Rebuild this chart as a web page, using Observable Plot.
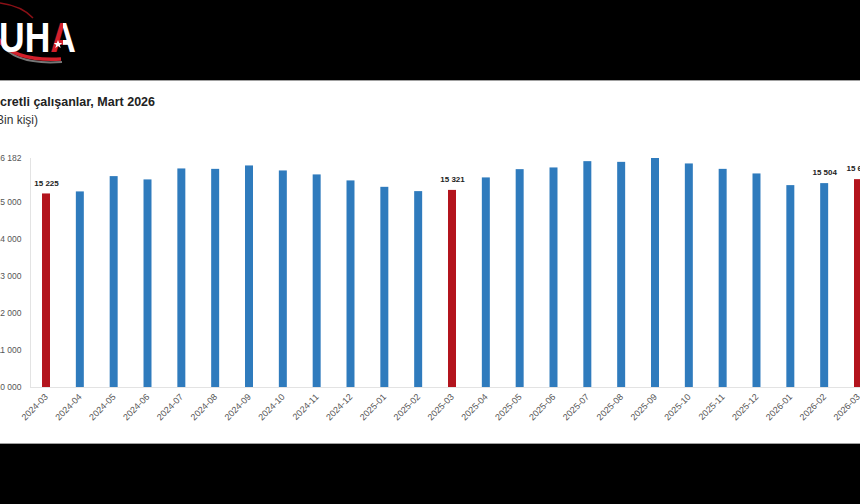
<!DOCTYPE html>
<html><head><meta charset="utf-8">
<script src="https://cdn.jsdelivr.net/npm/d3@7"></script>
<script src="https://cdn.jsdelivr.net/npm/@observablehq/plot@0.6"></script>
<style>
html,body{margin:0;padding:0;background:#000;width:860px;height:504px;overflow:hidden;position:relative;font-family:"Liberation Sans",Arial,sans-serif}
#panel{position:absolute;left:0;top:80px;width:860px;height:362px;background:#fff;border-top:1px solid #a0a0a0;border-bottom:1px solid #a0a0a0}
#logo{position:absolute;left:0;top:0}
.t{position:absolute;white-space:nowrap;line-height:1}
#title{left:-9px;top:96px;font-size:12.5px;font-weight:bold;color:#222}
#subtitle{left:-8px;top:114px;font-size:12px;color:#333}
#chart{position:absolute;left:-40px;top:140px;width:924px;height:303px}
#chart svg{max-width:none !important;width:924px;height:303px}
</style></head>
<body>
<svg id="logo" width="130" height="80">
  <defs>
    <linearGradient id="ag" gradientUnits="userSpaceOnUse" x1="50" x2="76" y1="0" y2="0">
      <stop offset="0" stop-color="#d3202b"/><stop offset="0.5" stop-color="#d3202b"/>
      <stop offset="0.5" stop-color="#fff"/><stop offset="1" stop-color="#fff"/>
    </linearGradient>
  </defs>
  <path d="M0 3 Q22 6 33 18" fill="none" stroke="#8a1016" stroke-width="1.5"/>
  <path d="M-4 32 Q4 66 62 62" fill="none" stroke="#777" stroke-width="2"/>
  <path d="M-6 28 Q2 62 61 59" fill="none" stroke="#d3202b" stroke-width="3.5"/>
  <text x="-1" y="52" font-size="42" font-weight="bold" fill="#fff" textLength="77" lengthAdjust="spacingAndGlyphs">UH<tspan fill="url(#ag)">A</tspan></text>
  <path d="M58 40 L59.2 43 L62.2 43 L59.8 44.9 L60.7 48 L58 46.1 L55.3 48 L56.2 44.9 L53.8 43 L56.8 43 Z" fill="#fff"/>
</svg>
<div id="panel"></div>
<div class="t" id="title">Ücretli çalışanlar, Mart 2026</div>
<div class="t" id="subtitle">(Bin kişi)</div>
<div id="chart"></div>
<script>
const months = ["2024-03","2024-04","2024-05","2024-06","2024-07","2024-08","2024-09","2024-10","2024-11","2024-12",
  "2025-01","2025-02","2025-03","2025-04","2025-05","2025-06","2025-07","2025-08","2025-09","2025-10","2025-11","2025-12",
  "2026-01","2026-02","2026-03"];
const values = [15225,15280,15693,15604,15900,15889,15981,15846,15739,15577,
  15404,15288,15321,15658,15881,15927,16097,16078,16182,16035,15889,15765,
  15450,15504,15611];
const redMonths = ["2024-03","2025-03","2026-03"];
const labeledMonths = ["2024-03","2025-03","2026-02","2026-03"];
const yTicks = [10000,11000,12000,13000,14000,15000,16182];
const yMin = 10000, yMax = 16182;
const blue = "#2f7bbd", red = "#b3141d";

const fmt = d => d3.format(",")(d).replace(/,/g, " ");
const data = months.map((m, i) => ({month: m, value: values[i], red: redMonths.includes(m), labeled: labeledMonths.includes(m)}));

const chart = Plot.plot({
  width: 924, height: 303,
  marginLeft: 70, marginRight: 10, marginTop: 18, marginBottom: 56,
  style: {fontFamily: "'Liberation Sans', Arial, sans-serif", background: "transparent", overflow: "visible"},
  x: {domain: months, paddingInner: 0.764, paddingOuter: 0.355, round: false, label: null},
  y: {domain: [yMin, yMax], label: null},
  marks: [
    Plot.frame({anchor: "left", stroke: "#e3e3e3"}),
    Plot.ruleY([yMin], {stroke: "#e3e3e3"}),
    Plot.barY(data, {x: "month", y1: yMin, y2: "value", fill: d => d.red ? red : blue}),
    Plot.text(data.filter(d => d.labeled), {x: "month", y: "value", text: d => fmt(d.value), dy: -11, fontWeight: "bold", fontSize: 8, fill: "#222"}),
    Plot.axisY({ticks: yTicks, tickFormat: fmt, tickSize: 0, tickPadding: 9, fontSize: 8.5, color: "#555", label: null}),
    Plot.axisX({tickRotate: -45, tickSize: 0, tickPadding: 8, fontSize: 9, color: "#555", label: null})
  ]
});
document.getElementById("chart").appendChild(chart);
</script>
</body></html>
